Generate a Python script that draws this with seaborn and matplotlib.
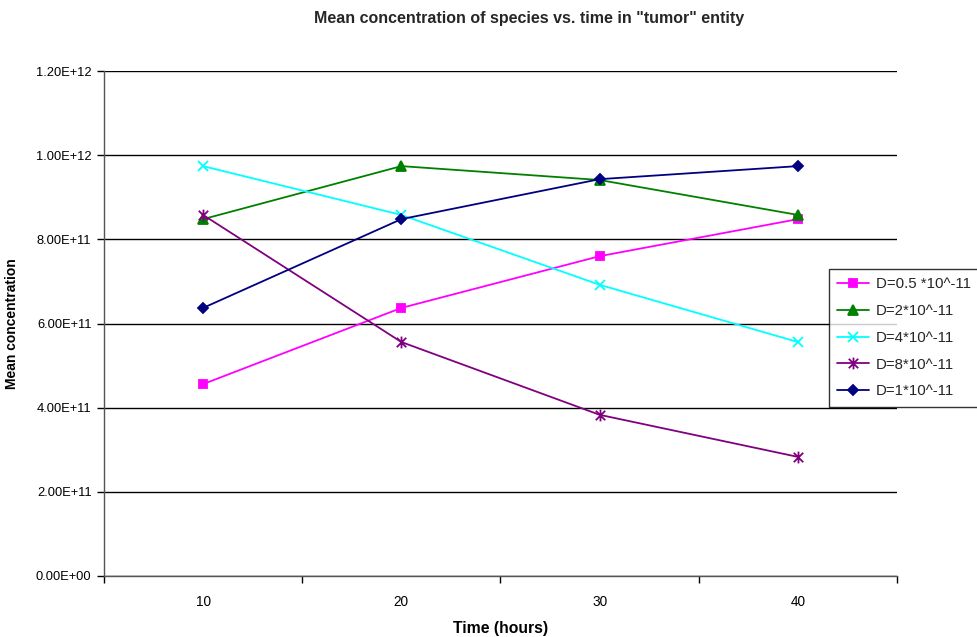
import matplotlib
matplotlib.use("Agg")
import matplotlib.pyplot as plt
from matplotlib.path import Path
import seaborn as sns
import pandas as pd

# Time points (hours) and mean concentration per diffusion coefficient
time_hours = [10, 20, 30, 40]
d_05 = [4.56e11, 6.37e11, 7.60e11, 8.48e11]
d_2 = [8.48e11, 9.74e11, 9.41e11, 8.58e11]
d_4 = [9.74e11, 8.58e11, 6.92e11, 5.56e11]
d_8 = [8.58e11, 5.56e11, 3.83e11, 2.83e11]
d_1 = [6.37e11, 8.48e11, 9.43e11, 9.74e11]

labels = ["D=0.5 *10^-11", "D=2*10^-11", "D=4*10^-11", "D=8*10^-11", "D=1*10^-11"]
y_ticks = [0, 2e11, 4e11, 6e11, 8e11, 1.0e12, 1.2e12]
y_tick_labels = ["0.00E+00", "2.00E+11", "4.00E+11", "6.00E+11", "8.00E+11", "1.00E+12", "1.20E+12"]

sns.set_theme(style="white")
plt.rcParams["font.family"] = ["Liberation Sans", "DejaVu Sans"]

# Asterisk marker: vertical stroke plus two diagonals
star_path = Path(
    [(0, -1), (0, 1), (-0.8, -0.8), (0.8, 0.8), (-0.8, 0.8), (0.8, -0.8)],
    [Path.MOVETO, Path.LINETO, Path.MOVETO, Path.LINETO, Path.MOVETO, Path.LINETO],
)

series = [d_05, d_2, d_4, d_8, d_1]
colors = ["#FF00FF", "#008000", "#00FFFF", "#800080", "#000080"]
markers = ["s", "^", "x", star_path, "D"]
msizes = [6, 6.5, 7.5, 8.5, 5.5]

fig = plt.figure(figsize=(9.78, 6.37), dpi=100)
ax = fig.add_axes([0.1063, 0.0958, 0.8109, 0.7927])

for vals, lab, col, mk, ms in zip(series, labels, colors, markers, msizes):
    df = pd.DataFrame({"time": time_hours, "conc": vals})
    sns.lineplot(data=df, x="time", y="conc", ax=ax, color=col, label=lab,
                 marker=mk, markersize=ms, markeredgecolor=col, markerfacecolor=col,
                 markeredgewidth=1.3, linewidth=1.3)

ax.set_xlim(5, 45)
ax.set_ylim(0, 1.2e12)
ax.set_yticks(y_ticks)
ax.set_yticklabels(y_tick_labels)
ax.set_xticks(time_hours)
ax.set_xticklabels([str(t) for t in time_hours])
ax.set_xticks([5, 15, 25, 35, 45], minor=True)
ax.tick_params(axis="x", which="major", length=0, pad=14, labelsize=9.8, colors="black")
ax.tick_params(axis="x", which="minor", length=5, width=1, color="black", direction="out", bottom=True)
ax.tick_params(axis="y", which="major", length=5, width=1, color="black", direction="out",
               left=True, labelsize=9.3, labelcolor="black", pad=4)

ax.yaxis.grid(True, color="black", linewidth=1)
ax.xaxis.grid(False)
ax.set_axisbelow(True)
for side in ["top", "right"]:
    ax.spines[side].set_visible(False)
for side in ["left", "bottom"]:
    ax.spines[side].set_color("#555555")
    ax.spines[side].set_linewidth(1)

ax.set_xlabel("Time (hours)", fontsize=11.3, fontweight="bold", color="black", labelpad=8)
ax.set_ylabel("Mean concentration", fontsize=10, fontweight="bold", color="black", labelpad=12)
fig.suptitle('Mean concentration of species vs. time in "tumor" entity',
             x=0.5409, y=0.982, fontsize=11.5, fontweight="bold")

leg = ax.legend(loc="upper left", bbox_to_anchor=(0.8477, 0.5777),
                bbox_transform=fig.transFigure, frameon=True, fancybox=False,
                fontsize=10.8, handlelength=2.1, borderpad=0.55, labelspacing=0.85,
                handletextpad=0.45, borderaxespad=0)
leg.get_frame().set_edgecolor("black")
leg.get_frame().set_linewidth(1)

fig.savefig("out.png", dpi=100)
